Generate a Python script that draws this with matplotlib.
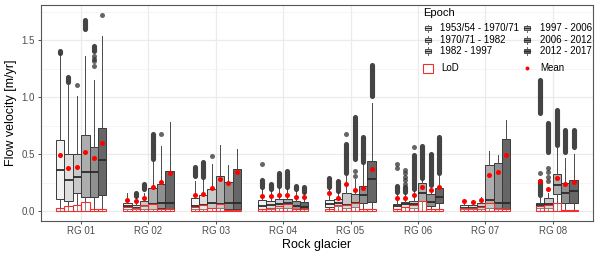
import numpy as np
import matplotlib
matplotlib.use("Agg")
import matplotlib.pyplot as plt
from matplotlib.patches import Rectangle
from matplotlib.ticker import MultipleLocator

plt.rcParams['font.family'] = ['Liberation Sans', 'DejaVu Sans']

# ---------------- data ----------------
glaciers = ["RG 01", "RG 02", "RG 03", "RG 04", "RG 05", "RG 06", "RG 07", "RG 08"]
epochs = ["1953/54 - 1970/71", "1970/71 - 1982", "1982 - 1997",
          "1997 - 2006", "2006 - 2012", "2012 - 2017"]
epoch_fills = ["#F3F3F3", "#DEDEDE", "#C9C9C9", "#ADADAD", "#8F8F8F", "#666666"]

N = None
q1 = [
    [0.11, 0.09, 0.16, 0.12, 0.12, 0.14],
    [0.015, 0.015, 0.02, 0.02, 0.025, 0.02],
    [0.02, 0.02, 0.025, 0.025, 0.02, 0.02],
    [0.02, 0.02, 0.025, 0.025, 0.015, 0.015],
    [0.035, 0.044, 0.03, 0.038, 0.073, 0.08],
    [0.015, 0.035, 0.03, 0.088, 0.045, 0.073],
    [0.015, 0.015, 0.02, 0.03, 0.02, 0.015],
    [N, 0.03, 0.03, 0.146, 0.068, 0.073],
]
median = [
    [0.36, 0.27, 0.30, 0.34, 0.34, 0.45],
    [0.04, 0.03, 0.044, 0.06, 0.07, 0.073],
    [0.044, 0.053, 0.068, 0.065, 0.068, 0.068],
    [0.044, 0.05, 0.058, 0.073, 0.044, 0.035],
    [0.065, 0.073, 0.056, 0.073, 0.14, 0.284],
    [0.044, 0.065, 0.062, 0.161, 0.077, 0.123],
    [0.03, 0.03, 0.038, 0.094, 0.068, 0.073],
    [N, 0.056, 0.06, 0.228, 0.16, 0.175],
]
q3 = [
    [0.62, 0.50, 0.50, 0.67, 0.56, 0.73],
    [0.073, 0.05, 0.088, 0.205, 0.24, 0.35],
    [0.117, 0.138, 0.19, 0.307, 0.254, 0.37],
    [0.094, 0.088, 0.103, 0.103, 0.088, 0.079],
    [0.094, 0.103, 0.155, 0.146, 0.22, 0.44],
    [0.065, 0.082, 0.091, 0.243, 0.146, 0.205],
    [0.053, 0.05, 0.073, 0.40, 0.424, 0.63],
    [N, 0.073, 0.117, 0.328, 0.249, 0.27],
]
whisker_low = [
    [0.005, 0.005, 0.005, 0.005, 0.005, 0.005],
    [0.002, 0.002, 0.002, 0.002, 0.002, 0.002],
    [0.002, 0.002, 0.002, 0.002, 0.002, 0.002],
    [0.002, 0.002, 0.002, 0.002, 0.002, 0.002],
    [0.002, 0.002, 0.002, 0.002, 0.002, 0.002],
    [0.002, 0.002, 0.002, 0.002, 0.002, 0.002],
    [0.002, 0.002, 0.002, 0.002, 0.002, 0.002],
    [N, 0.002, 0.002, 0.005, 0.002, 0.002],
]
whisker_high = [
    [1.39, 1.11, 1.01, 1.36, 1.155, 1.535],
    [0.16, 0.12, 0.16, 0.43, 0.57, 0.78],
    [0.26, 0.28, 0.41, 0.576, 0.40, 0.547],
    [0.19, 0.18, 0.205, 0.20, 0.18, 0.165],
    [0.19, 0.167, 0.31, 0.278, 0.41, 0.95],
    [0.146, 0.16, 0.175, 0.278, 0.205, 0.307],
    [0.064, 0.06, 0.126, 0.53, 0.49, 0.80],
    [N, 0.117, 0.16, 0.55, 0.47, 0.50],
]
mean = [
    [0.49, 0.38, 0.39, 0.52, 0.465, 0.60],
    [0.097, 0.085, 0.111, 0.214, 0.254, 0.337],
    [0.14, 0.149, 0.20, 0.284, 0.243, 0.342],
    [0.135, 0.13, 0.14, 0.14, 0.126, 0.126],
    [0.16, 0.114, 0.24, 0.184, 0.205, 0.372],
    [0.114, 0.114, 0.143, 0.214, 0.184, 0.214],
    [0.085, 0.082, 0.094, 0.313, 0.345, 0.49],
    [N, 0.263, 0.19, 0.287, 0.24, 0.254],
]
lod = [
    [0.03, 0.04, 0.05, 0.08, 0.02, 0.015],
    [0.032, 0.025, 0.05, 0.062, 0.015, 0.015],
    [0.035, 0.053, 0.03, 0.065, 0.012, 0.012],
    [0.02, 0.025, 0.04, 0.058, 0.015, 0.015],
    [0.02, 0.053, 0.053, 0.073, 0.02, 0.02],
    [0.015, 0.035, 0.05, 0.085, 0.015, 0.015],
    [0.03, 0.03, 0.035, 0.073, 0.03, 0.015],
    [N, 0.044, 0.053, 0.073, 0.01, 0.01],
]
# dense outlier columns: (glacier, epoch, lowest, highest)
outlier_ranges = [
    (0, 0, 1.39, 1.41), (0, 1, 1.13, 1.18), (0, 3, 1.60, 1.68), (0, 4, 1.41, 1.45),
    (1, 1, 0.13, 0.16), (1, 2, 0.19, 0.24), (1, 3, 0.46, 0.68),
    (2, 0, 0.31, 0.39), (2, 1, 0.30, 0.43),
    (3, 0, 0.21, 0.27), (3, 1, 0.19, 0.24), (3, 2, 0.22, 0.33), (3, 3, 0.21, 0.35),
    (3, 4, 0.19, 0.22), (3, 5, 0.17, 0.21),
    (4, 0, 0.21, 0.29), (4, 1, 0.18, 0.26), (4, 2, 0.33, 0.59), (4, 3, 0.46, 0.83),
    (4, 4, 0.43, 0.65), (4, 5, 1.01, 1.28),
    (5, 0, 0.17, 0.22), (5, 1, 0.17, 0.21), (5, 2, 0.19, 0.49), (5, 3, 0.29, 0.57),
    (5, 4, 0.23, 0.50), (5, 5, 0.33, 0.65),
    (7, 1, 0.86, 1.15), (7, 1, 0.14, 0.26), (7, 2, 0.52, 0.77), (7, 3, 0.58, 0.89),
    (7, 4, 0.52, 0.71), (7, 5, 0.56, 0.71),
]
# isolated outliers: (glacier, epoch, value)
outlier_points = [
    (0, 2, 1.11), (0, 4, 1.36), (0, 4, 1.335), (0, 4, 1.315), (0, 4, 1.27), (0, 5, 1.72),
    (1, 4, 0.675),
    (2, 2, 0.48),
    (3, 0, 0.41),
    (4, 2, 0.68), (4, 3, 0.35), (4, 3, 0.31),
    (5, 0, 0.41), (5, 0, 0.38), (5, 1, 0.24), (5, 1, 0.27), (5, 1, 0.30), (5, 1, 0.33),
    (5, 1, 0.36), (5, 2, 0.56),
    (7, 1, 0.335), (7, 2, 0.26), (7, 2, 0.30), (7, 2, 0.34), (7, 2, 0.38),
]

# ---------------- figure ----------------
W, H = 600, 257
fig = plt.figure(figsize=(6.0, 2.57), dpi=100)
ax = fig.add_axes([40.7 / W, 1 - 220.7 / H, (593.0 - 40.7) / W, (220.7 - 5.0) / H])

dodge = 0.75
bw = dodge / len(epochs)


def xpos(g, e):
    return g + 1 + (e - (len(epochs) - 1) / 2) * bw


stats, pos, fills = [], [], []
for g in range(len(glaciers)):
    for e in range(len(epochs)):
        if median[g][e] is None:
            continue
        stats.append(dict(med=median[g][e], q1=q1[g][e], q3=q3[g][e],
                          whislo=whisker_low[g][e], whishi=whisker_high[g][e],
                          fliers=[]))
        pos.append(xpos(g, e))
        fills.append(epoch_fills[e])

bp = ax.bxp(stats, positions=pos, widths=bw, patch_artist=True, showcaps=False,
            showfliers=False, manage_ticks=False,
            boxprops=dict(edgecolor="#3a3a3a", linewidth=0.7),
            whiskerprops=dict(color="#4a4a4a", linewidth=0.7),
            medianprops=dict(color="#2a2a2a", linewidth=1.3))
for patch, fc in zip(bp["boxes"], fills):
    patch.set_facecolor(fc)
    patch.set_zorder(2)

# outliers
for g, e, lo, hi in outlier_ranges:
    ax.plot([xpos(g, e)] * 2, [lo, hi], color="#303030", lw=3.7,
            solid_capstyle="round", alpha=0.9, zorder=2.5)
ox = [xpos(g, e) for g, e, v in outlier_points]
oy = [v for g, e, v in outlier_points]
ax.scatter(ox, oy, s=13, color="#333333", alpha=0.75, linewidths=0, zorder=2.5)

# LoD rectangles
lx, ly = [], []
for g in range(len(glaciers)):
    for e in range(len(epochs)):
        if lod[g][e] is not None:
            lx.append(xpos(g, e))
            ly.append(lod[g][e])
ax.bar(lx, ly, width=bw, bottom=0, facecolor=(1, 1, 1, 0.35),
       edgecolor="#F03030", linewidth=0.8, zorder=3)

# means
mx, my = [], []
for g in range(len(glaciers)):
    for e in range(len(epochs)):
        if mean[g][e] is not None:
            mx.append(xpos(g, e))
            my.append(mean[g][e])
ax.scatter(mx, my, s=13, color="#FF0000", linewidths=0, zorder=4)

# axes styling
ax.set_xlim(0.4, 8.6)
ax.set_ylim(-0.085, 1.81)
ax.set_xticks(range(1, len(glaciers) + 1))
ax.set_xticklabels(glaciers)
ax.yaxis.set_major_locator(MultipleLocator(0.5))
ax.yaxis.set_minor_locator(MultipleLocator(0.25))
ax.set_yticks([0, 0.5, 1.0, 1.5])
ax.set_yticklabels(["0.0", "0.5", "1.0", "1.5"])
ax.set_axisbelow(True)
ax.grid(True, which="major", color="#EBEBEB", lw=0.9)
ax.grid(True, which="minor", axis="y", color="#F2F2F2", lw=0.5)
ax.tick_params(which="major", length=2.3, width=0.6, color="#333333",
               labelcolor="#4D4D4D", labelsize=7, pad=1.8)
ax.tick_params(which="minor", length=0)
for s in ax.spines.values():
    s.set_color("#555555")
    s.set_linewidth(0.8)
ax.set_xlabel("Rock glacier", fontsize=9, labelpad=2)
ax.set_ylabel("Flow velocity [m/yr]", fontsize=9, labelpad=3)

# ---------------- legend (drawn in pixel space overlay) ----------------
ov = fig.add_axes([0, 0, 1, 1], zorder=10)
ov.set_xlim(0, W)
ov.set_ylim(H, 0)
ov.axis("off")
ov.patch.set_alpha(0)

ov.text(423.3, 13.5, "Epoch", fontsize=8, va="center", ha="left", color="black")
rows_y = [28.3, 39.8, 51.2]
cols = [(428.3, 440.0), (527.3, 540.0)]


def key_box(cx, cy, fc):
    bwid, bh, wl = 6.0, 4.4, 1.6
    ov.plot([cx, cx], [cy - bh / 2 - wl, cy - bh / 2], color="#4a4a4a", lw=0.6)
    ov.plot([cx, cx], [cy + bh / 2, cy + bh / 2 + wl], color="#4a4a4a", lw=0.6)
    ov.add_patch(Rectangle((cx - bwid / 2, cy - bh / 2), bwid, bh, facecolor=fc,
                           edgecolor="#3a3a3a", lw=0.6))
    ov.plot([cx - bwid / 2, cx + bwid / 2], [cy, cy], color="#2a2a2a", lw=0.9)


for i, lab in enumerate(epochs):
    c, r = divmod(i, 3)
    kx, tx = cols[c]
    key_box(kx, rows_y[r], epoch_fills[i])
    ov.text(tx, rows_y[r], lab, fontsize=7, va="center", ha="left", color="black")

ov.add_patch(Rectangle((422.7, 63.5), 10, 9.6, facecolor="white",
                       edgecolor="#F03030", lw=0.8))
ov.text(441.7, 68.3, "LoD", fontsize=7, va="center", ha="left", color="black")
ov.scatter([527.3], [68.3], s=8, color="#FF0000", linewidths=0)
ov.text(540.7, 68.3, "Mean", fontsize=7, va="center", ha="left", color="black")

fig.savefig("out.png", dpi=100)
